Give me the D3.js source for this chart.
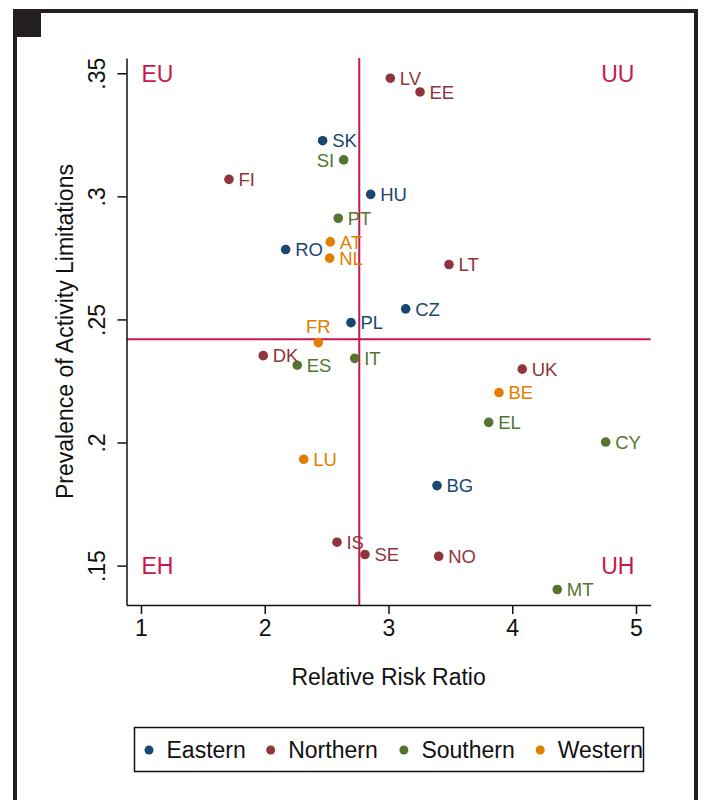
<!DOCTYPE html>
<html>
<head>
<meta charset="utf-8">
<script src="https://cdn.jsdelivr.net/npm/d3@7"></script>
<style>
  html, body { margin: 0; padding: 0; background: #fff; }
  svg { display: block; font-family: "Liberation Sans", Arial, sans-serif; }
</style>
</head>
<body>
<svg id="chart" width="704" height="800"></svg>
<script>
// Country codes, region membership and values
const countries = ["LV","EE","SK","SI","HU","PT","RO","AT","NL","LT","CZ","PL","FR","IT",
                   "ES","UK","BE","EL","CY","LU","BG","IS","SE","NO","MT","FI","DK"];
const regionOf  = ["Northern","Northern","Eastern","Southern","Eastern","Southern","Eastern","Western","Western","Northern","Eastern","Eastern","Western","Southern",
                   "Southern","Northern","Western","Southern","Southern","Western","Eastern","Northern","Northern","Northern","Southern","Northern","Northern"];
const riskRatio = [3.015,3.255,2.468,2.638,2.856,2.594,2.169,2.530,2.525,3.489,3.139,2.697,2.433,2.727,
                   2.263,4.081,3.893,3.810,4.755,2.315,3.392,2.584,2.810,3.406,4.364,1.711,1.988];
const prevalence = [0.3480,0.3424,0.3226,0.3148,0.3008,0.2911,0.2784,0.2815,0.2749,0.2723,0.2543,0.2487,0.2406,0.2342,
                    0.2314,0.2298,0.2203,0.2082,0.2002,0.1932,0.1825,0.1595,0.1545,0.1538,0.1403,0.3069,0.2353];
// label placement: e = right of marker, w = left, n = above
const labelSide = ["e","e","e","w","e","e","e","e","e","e","e","e","n","e",
                   "e","e","e","e","e","e","e","e","e","e","e","e","e"];

const regions = ["Eastern","Northern","Southern","Western"];
const regionColors = ["#1a476f","#90353b","#55752f","#e37e00"];

const xTicks = [1,2,3,4,5];
const yTicks = [0.15,0.20,0.25,0.30,0.35];
const yTickLabels = [".15",".2",".25",".3",".35"];

// Averages drawn as reference lines
const meanRatio = 2.764;
const meanPrevalence = 0.242;

// Quadrant labels
const quadNames = ["EU","UU","EH","UH"];
const quadX = [1,5,1,5];
const quadY = [0.35,0.35,0.15,0.15];
const quadAnchor = ["start","end","start","end"];

const xTitle = "Relative Risk Ratio";
const yTitle = "Prevalence of Activity Limitations";

const refColor = "#c8174a";
const ink = "#111";
const frameColor = "#231f20";
const bigFont = 23;
const labelFont = 18.5;

const svg = d3.select("#chart");

// outer frame
svg.append("rect").attr("x",15).attr("y",11).attr("width",681).attr("height",800)
  .attr("fill","none").attr("stroke",frameColor).attr("stroke-width",4);
svg.append("rect").attr("x",13).attr("y",11).attr("width",28).attr("height",26).attr("fill",frameColor);

const plot = {left:126.5, right:650.7, top:58, bottom:605};

const x = d3.scaleLinear().domain([0.883, 5.119]).range([plot.left, plot.right]);
const y = d3.scaleLinear().domain([0.1340, 0.3562]).range([plot.bottom, plot.top]);
const color = d3.scaleOrdinal().domain(regions).range(regionColors);

// reference lines
svg.append("line").attr("x1",plot.left).attr("x2",plot.right)
  .attr("y1",y(meanPrevalence)).attr("y2",y(meanPrevalence))
  .attr("stroke",refColor).attr("stroke-width",2);
svg.append("line").attr("x1",x(meanRatio)).attr("x2",x(meanRatio))
  .attr("y1",plot.top).attr("y2",plot.bottom)
  .attr("stroke",refColor).attr("stroke-width",2);

// axes
const xAxis = d3.axisBottom(x).tickValues(xTicks).tickFormat(d3.format("d")).tickSize(9).tickPadding(6).tickSizeOuter(0);
const gx = svg.append("g").attr("transform",`translate(0,${plot.bottom})`).call(xAxis);
gx.select(".domain").attr("stroke",ink).attr("stroke-width",1.5);
gx.selectAll(".tick line").attr("stroke",ink).attr("stroke-width",1.5);
gx.selectAll(".tick text").attr("font-size",bigFont).attr("fill",ink)
  .attr("font-family","Liberation Sans, Arial, sans-serif").attr("dy","0.71em");

const yAxis = d3.axisLeft(y).tickValues(yTicks).tickFormat((d,i)=>yTickLabels[i]).tickSize(9).tickSizeOuter(0);
const gy = svg.append("g").attr("transform",`translate(${plot.left},0)`).call(yAxis);
gy.select(".domain").attr("stroke",ink).attr("stroke-width",1.5);
gy.selectAll(".tick line").attr("stroke",ink).attr("stroke-width",1.5);
gy.selectAll(".tick text")
  .attr("font-size",bigFont).attr("fill",ink)
  .attr("font-family","Liberation Sans, Arial, sans-serif")
  .attr("x",0).attr("dy",0)
  .attr("text-anchor","middle")
  .attr("transform","translate(-21.5,0) rotate(-90)");

// axis titles
svg.append("text").attr("x",(plot.left+plot.right)/2).attr("y",685)
  .attr("text-anchor","middle").attr("font-size",bigFont).attr("fill",ink).text(xTitle);
svg.append("text").attr("transform",`translate(73,${(plot.top+plot.bottom)/2}) rotate(-90)`)
  .attr("text-anchor","middle").attr("font-size",bigFont).attr("fill",ink).text(yTitle);

// quadrant labels
svg.append("g").selectAll("text").data(quadNames).join("text")
  .attr("x",(d,i)=>x(quadX[i]) + (quadAnchor[i]==="start" ? 0.5 : -1.5))
  .attr("y",(d,i)=>y(quadY[i]) + 8.3)
  .attr("text-anchor",(d,i)=>quadAnchor[i])
  .attr("font-size",bigFont).attr("fill",refColor).text(d=>d);

// points
const pts = countries.map((c,i)=>({code:c, region:regionOf[i], rr:riskRatio[i], prev:prevalence[i], side:labelSide[i]}));

svg.append("g").selectAll("circle").data(pts).join("circle")
  .attr("cx",d=>x(d.rr)).attr("cy",d=>y(d.prev)).attr("r",4.8)
  .attr("fill",d=>color(d.region));

svg.append("g").selectAll("text").data(pts).join("text")
  .attr("x",d=> d.side==="e" ? x(d.rr)+9.5 : d.side==="w" ? x(d.rr)-9.5 : x(d.rr))
  .attr("y",d=> d.side==="n" ? y(d.prev)-9.5 : y(d.prev)+6.7)
  .attr("text-anchor",d=> d.side==="e" ? "start" : d.side==="w" ? "end" : "middle")
  .attr("font-size",labelFont).attr("fill",d=>color(d.region)).text(d=>d.code);

// legend
const legend = svg.append("g");
legend.append("rect").attr("x",134.5).attr("y",727.5).attr("width",509).attr("height",44)
  .attr("fill","#fff").attr("stroke",ink).attr("stroke-width",1.5);
const legendDotX = [149,270.7,403.9,540.2];
const items = legend.selectAll("g.item").data(regions).join("g").attr("class","item")
  .attr("transform",(d,i)=>`translate(${legendDotX[i]},750)`);
items.append("circle").attr("r",4.5).attr("fill",d=>color(d));
items.append("text").attr("x",17.5).attr("y",8).attr("font-size",bigFont).attr("fill",ink).text(d=>d);
</script>
</body>
</html>
